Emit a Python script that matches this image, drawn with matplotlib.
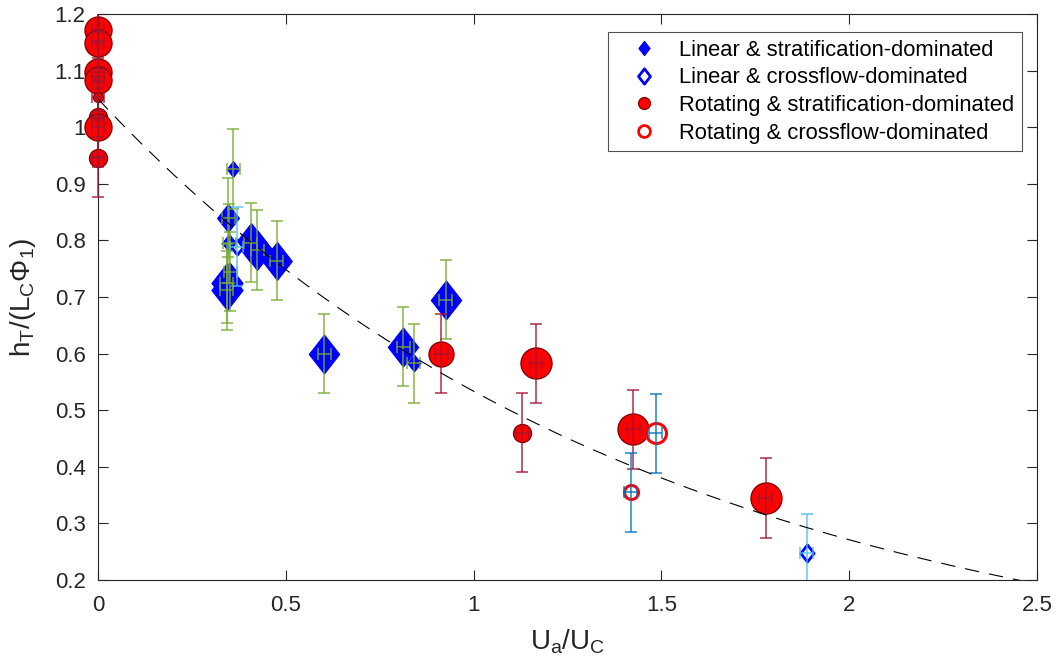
import numpy as np
import matplotlib.pyplot as plt
from matplotlib.path import Path
from matplotlib.lines import Line2D
from matplotlib.patches import Rectangle

plt.rcParams["font.family"] = ["Liberation Sans", "DejaVu Sans"]
plt.rcParams["mathtext.fontset"] = "custom"
plt.rcParams["mathtext.rm"] = "Liberation Sans"
plt.rcParams["mathtext.it"] = "Liberation Sans"

# Linear & stratification-dominated
lin_strat_x = [0.360, 0.347, 0.350, 0.352, 0.343, 0.343, 0.407, 0.424, 0.476, 0.603, 0.813, 0.840, 0.926]
lin_strat_y = [0.926, 0.840, 0.795, 0.745, 0.724, 0.712, 0.796, 0.783, 0.764, 0.600, 0.612, 0.583, 0.695]
lin_strat_size = [16, 28, 18, 18, 40, 40, 40, 40, 38, 39, 39, 17, 39]

# Linear & crossflow-dominated
lin_cross_x = [0.369, 1.887]
lin_cross_y = [0.789, 0.247]
lin_cross_size = [15, 17]

# Rotating & stratification-dominated
rot_strat_x = [0.0, 0.0, 0.0, 0.0, 0.0, 0.0, 0.0, 0.0, 0.914, 1.166, 1.130, 1.425, 1.778]
rot_strat_y = [1.172, 1.149, 1.098, 1.083, 1.053, 1.018, 1.000, 0.946, 0.600, 0.583, 0.460, 0.466, 0.345]
rot_strat_size = [27, 27, 27, 27, 10, 18, 27, 18, 25, 31, 18, 31, 31]

# Rotating & crossflow-dominated
rot_cross_x = [1.418, 1.485]
rot_cross_y = [0.355, 0.459]
rot_cross_size = [14, 20]

x_err = 0.017
y_err = 0.07

# fitted curve h = a * exp(-k * U)
fit_a = 1.05
fit_k = 0.677

diamond = Path([(0, 1), (0.78, 0), (0, -1), (-0.78, 0), (0, 1)],
               [Path.MOVETO, Path.LINETO, Path.LINETO, Path.LINETO, Path.CLOSEPOLY])

PX = 0.72  # px -> pt at 100 dpi

fig = plt.figure(figsize=(10.6, 6.64), dpi=100)
ax = fig.add_axes([98 / 1060, 1 - 580 / 664, 939 / 1060, 566 / 664])

# clip only top/bottom so points sitting on x=0 are drawn whole
clip = Rectangle((-0.05, 0), 1.1, 1, transform=ax.transAxes, fill=False, visible=False)
ax.add_patch(clip)


def draw_group(xs, ys, sizes, marker, face, edge, mew, bar_color):
    for x, y, s in zip(xs, ys, sizes):
        ax.plot(x, y, marker=marker, ms=s * PX, mfc=face, mec=edge, mew=mew,
                ls="none", zorder=2, clip_on=False)
        eb = ax.errorbar(x, y, yerr=y_err, xerr=x_err, fmt="none", ecolor=bar_color,
                         elinewidth=1.3, capsize=4.5, capthick=1.3, alpha=0.75, zorder=3)
        for art in eb.lines[1] + eb.lines[2]:
            art.set_clip_path(clip)


draw_group(lin_strat_x, lin_strat_y, lin_strat_size, diamond, "#0000ff", "#0000ff", 0.8, "#77ac30")
draw_group(lin_cross_x, lin_cross_y, lin_cross_size, diamond, "white", "#0000ff", 2.0, "#4dbeee")
draw_group(rot_strat_x, rot_strat_y, rot_strat_size, "o", "#ff0000", "#8b0000", 1.0, "#a2142f")
draw_group(rot_cross_x, rot_cross_y, rot_cross_size, "o", "white", "#ff0000", 2.2, "#0072bd")

u = np.linspace(0, 2.5, 300)
ax.plot(u, fit_a * np.exp(-fit_k * u), color="black", lw=0.8, dashes=(13, 9), zorder=4)

ax.set_xlim(0, 2.5)
ax.set_ylim(0.2, 1.2)
ax.set_xticks([0, 0.5, 1, 1.5, 2, 2.5])
ax.set_xticklabels(["0", "0.5", "1", "1.5", "2", "2.5"])
ax.set_yticks(np.arange(0.2, 1.21, 0.1))
ax.set_yticklabels(["0.2", "0.3", "0.4", "0.5", "0.6", "0.7", "0.8", "0.9", "1", "1.1", "1.2"])
ax.tick_params(direction="in", top=True, right=True, length=7, width=0.8,
               colors="#262626", labelsize=16)
ax.tick_params(axis="x", pad=11)
ax.tick_params(axis="y", pad=9)
for sp in ax.spines.values():
    sp.set_color("#262626")
    sp.set_linewidth(0.8)

ax.set_xlabel(r"$\mathregular{U_a/U_C}$", fontsize=20, color="#262626", labelpad=8)
ax.set_ylabel(r"$\mathregular{h_T/(L_C\Phi_1)}$", fontsize=20, color="#262626", labelpad=12)

handles = [
    Line2D([], [], ls="none", marker=diamond, ms=10, mfc="#0000ff", mec="#0000ff"),
    Line2D([], [], ls="none", marker=diamond, ms=11, mfc="white", mec="#0000ff", mew=2),
    Line2D([], [], ls="none", marker="o", ms=8.5, mfc="#ff0000", mec="#8b0000"),
    Line2D([], [], ls="none", marker="o", ms=8.5, mfc="white", mec="#ff0000", mew=2),
]
labels = [
    "Linear & stratification-dominated",
    "Linear & crossflow-dominated",
    "Rotating & stratification-dominated",
    "Rotating & crossflow-dominated",
]
leg = ax.legend(handles, labels, loc="upper right", bbox_to_anchor=(0.984, 0.968),
                fontsize=15.8, frameon=True, fancybox=False, edgecolor="#262626",
                borderaxespad=0, labelspacing=0.3, handletextpad=0.3,
                borderpad=0.35, handlelength=2.6)
leg.get_frame().set_linewidth(0.8)
leg.set_zorder(10)

fig.savefig("out.png", dpi=100)
